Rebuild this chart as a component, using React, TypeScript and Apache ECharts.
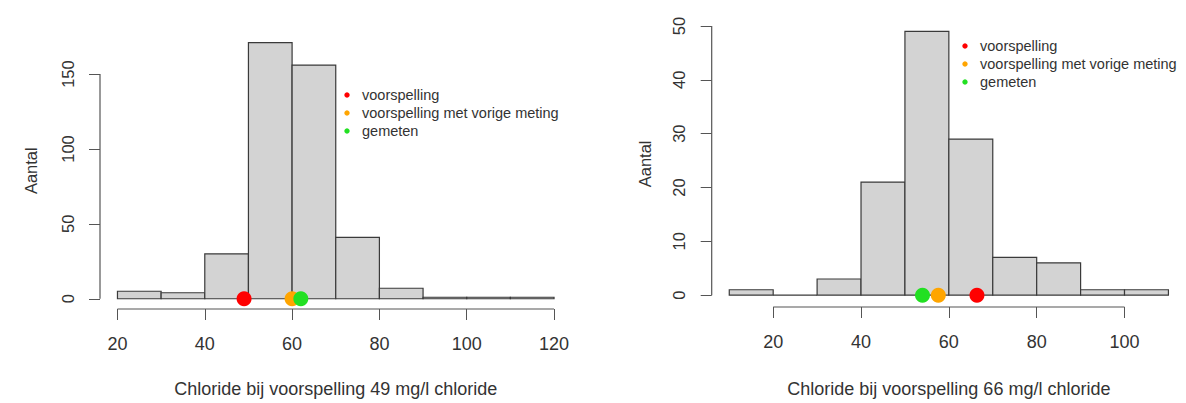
import React, { useEffect, useRef } from "react";
import * as echarts from "echarts";

// ---- data ----
const legendLabels = ["voorspelling", "voorspelling met vorige meting", "gemeten"];
const pointColors = ["#ff0000", "#ffa500", "#22e022"];
const yLabel = "Aantal";

const leftBreaks = [20, 30, 40, 50, 60, 70, 80, 90, 100, 110, 120];
const leftCounts = [5, 4, 30, 171, 156, 41, 7, 1, 1, 1];
const leftPoints = [49, 60, 62];
const leftXTicks = [20, 40, 60, 80, 100, 120];
const leftYTicks = [0, 50, 100, 150];
const leftTitle = "Chloride bij voorspelling 49 mg/l chloride";

const rightBreaks = [10, 20, 30, 40, 50, 60, 70, 80, 90, 100, 110];
const rightCounts = [1, 0, 3, 21, 49, 29, 7, 6, 1, 1];
const rightPoints = [66.4, 57.6, 54];
const rightXTicks = [20, 40, 60, 80, 100];
const rightYTicks = [0, 10, 20, 30, 40, 50];
const rightTitle = "Chloride bij voorspelling 66 mg/l chloride";

const FONT = '"Liberation Sans", Arial, sans-serif';
const TEXT = "#333";
const AXIS = "#555";

type Panel = {
  breaks: number[];
  counts: number[];
  points: number[];
  xTicks: number[];
  yTicks: number[];
  title: string;
  xMin: number;
  xMax: number;
  yMin: number;
  yMax: number;
  grid: { left: number; top: number; width: number; height: number };
  nameGap: number;
  yNameGap: number;
  legendPos: [number, number];
};

const panels: Panel[] = [
  {
    breaks: leftBreaks,
    counts: leftCounts,
    points: leftPoints,
    xTicks: leftXTicks,
    yTicks: leftYTicks,
    title: leftTitle,
    xMin: 16,
    xMax: 124,
    yMin: -6.84,
    yMax: 177.84,
    grid: { left: 100, top: 32.4, width: 471.5, height: 283.1 },
    nameGap: 71,
    yNameGap: 61,
    legendPos: [347, 95],
  },
  {
    breaks: rightBreaks,
    counts: rightCounts,
    points: rightPoints,
    xTicks: rightXTicks,
    yTicks: rightYTicks,
    title: rightTitle,
    xMin: 6,
    xMax: 114,
    yMin: -2.2,
    yMax: 50.96,
    grid: { left: 711.7, top: 20.8, width: 483.3, height: 290.2 },
    nameGap: 73,
    yNameGap: 58,
    legendPos: [965, 46],
  },
];

export default function App() {
  const ref = useRef<HTMLDivElement>(null);

  useEffect(() => {
    if (!ref.current) return;
    const chart = echarts.init(ref.current, null, { renderer: "svg" });

    const grids: any[] = [];
    const xAxes: any[] = [];
    const yAxes: any[] = [];
    const series: any[] = [];
    const graphics: any[] = [];

    panels.forEach((p, gi) => {
      grids.push({ ...p.grid, containLabel: false });
      xAxes.push({
        type: "value",
        gridIndex: gi,
        min: p.xMin,
        max: p.xMax,
        position: "bottom",
        axisLine: { show: false, onZero: false },
        axisTick: {
          show: true,
          length: 11,
          customValues: p.xTicks,
          lineStyle: { color: AXIS, width: 1 },
        },
        axisLabel: {
          show: true,
          customValues: p.xTicks,
          margin: 26,
          color: TEXT,
          fontSize: 18,
          fontFamily: FONT,
        },
        splitLine: { show: false },
        name: p.title,
        nameLocation: "middle",
        nameGap: p.nameGap,
        nameTextStyle: { color: TEXT, fontSize: 18, fontFamily: FONT },
      });
      yAxes.push({
        type: "value",
        gridIndex: gi,
        min: p.yMin,
        max: p.yMax,
        position: "left",
        axisLine: { show: false, onZero: false },
        axisTick: {
          show: true,
          length: 11,
          customValues: p.yTicks,
          lineStyle: { color: AXIS, width: 1 },
        },
        axisLabel: {
          show: true,
          customValues: p.yTicks,
          rotate: 90,
          margin: 24,
          color: TEXT,
          fontSize: 16.5,
          fontFamily: FONT,
        },
        splitLine: { show: false },
        name: yLabel,
        nameLocation: "middle",
        nameRotate: 90,
        nameGap: p.yNameGap,
        nameTextStyle: { color: TEXT, fontSize: 16.5, fontFamily: FONT },
      });

      // histogram bins
      const bins = p.counts.map((c, i) => [p.breaks[i], p.breaks[i + 1], c]);
      series.push({
        type: "custom",
        xAxisIndex: gi,
        yAxisIndex: gi,
        data: bins,
        encode: { x: [0, 1], y: 2 },
        clip: false,
        z: 2,
        renderItem: (_params: any, api: any) => {
          const a = api.coord([api.value(0), 0]);
          const b = api.coord([api.value(1), api.value(2)]);
          return {
            type: "rect",
            shape: { x: a[0], y: b[1], width: b[0] - a[0], height: a[1] - b[1] },
            style: { fill: "#d3d3d3", stroke: "#3a3a3a", lineWidth: 1.2 },
          };
        },
      });

      // axis lines spanning first to last tick (R style)
      series.push({
        type: "line",
        xAxisIndex: gi,
        yAxisIndex: gi,
        data: [
          [p.xTicks[0], p.yMin],
          [p.xTicks[p.xTicks.length - 1], p.yMin],
        ],
        symbol: "none",
        clip: false,
        silent: true,
        lineStyle: { color: AXIS, width: 1.2 },
        z: 3,
      });
      series.push({
        type: "line",
        xAxisIndex: gi,
        yAxisIndex: gi,
        data: [
          [p.xMin, p.yTicks[0]],
          [p.xMin, p.yTicks[p.yTicks.length - 1]],
        ],
        symbol: "none",
        clip: false,
        silent: true,
        lineStyle: { color: AXIS, width: 1.2 },
        z: 3,
      });

      // points
      p.points.forEach((v, i) => {
        series.push({
          type: "scatter",
          name: legendLabels[i],
          xAxisIndex: gi,
          yAxisIndex: gi,
          data: [[v, 0]],
          symbol: "circle",
          symbolSize: 15,
          itemStyle: { color: pointColors[i], opacity: 1 },
          z: 5 + i,
        });
      });

      // legend
      graphics.push({
        type: "group",
        x: p.legendPos[0],
        y: p.legendPos[1],
        children: legendLabels.flatMap((label, i) => [
          {
            type: "circle",
            shape: { cx: 0, cy: i * 18, r: 2.7 },
            style: { fill: pointColors[i] },
          },
          {
            type: "text",
            x: 15,
            y: i * 18,
            style: {
              text: label,
              fill: TEXT,
              fontSize: 14.5,
              fontFamily: FONT,
              verticalAlign: "middle",
            },
          },
        ]),
      });
    });

    chart.setOption({
      animation: false,
      backgroundColor: "#ffffff",
      grid: grids,
      xAxis: xAxes,
      yAxis: yAxes,
      series,
      graphic: graphics,
    });

    return () => chart.dispose();
  }, []);

  return (
    <div
      ref={ref}
      style={{ position: "absolute", left: 0, top: 0, width: 1186, height: 403 }}
    />
  );
}
